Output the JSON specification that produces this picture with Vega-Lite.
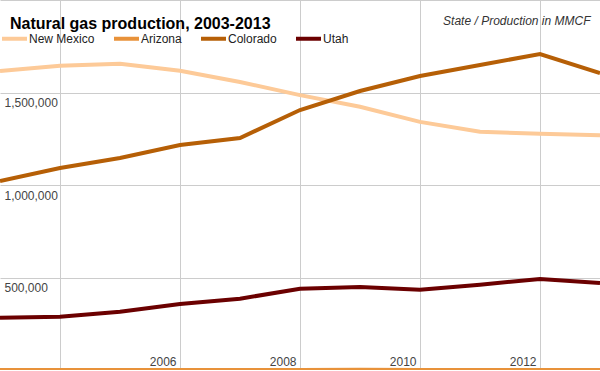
{
  "$schema": "https://vega.github.io/schema/vega-lite/v6.json",
  "width": 600,
  "height": 370,
  "autosize": {"type": "none"},
  "padding": 0,
  "background": "white",
  "config": {"font": "Liberation Sans", "view": {"stroke": null}},
  "title": {
    "text": "Natural gas production, 2003-2013",
    "anchor": "start",
    "frame": "group",
    "orient": "top",
    "offset": -45,
    "dx": 10,
    "fontSize": 16,
    "fontWeight": "bold",
    "font": "Liberation Sans",
    "color": "#000000",
    "baseline": "alphabetic"
  },
  "data": {
    "values": [
      {"state": "New Mexico", "year": 2003, "value": 1616000},
      {"state": "New Mexico", "year": 2004, "value": 1645000},
      {"state": "New Mexico", "year": 2005, "value": 1656000},
      {"state": "New Mexico", "year": 2006, "value": 1618000},
      {"state": "New Mexico", "year": 2007, "value": 1557000},
      {"state": "New Mexico", "year": 2008, "value": 1486000},
      {"state": "New Mexico", "year": 2009, "value": 1423000},
      {"state": "New Mexico", "year": 2010, "value": 1341000},
      {"state": "New Mexico", "year": 2011, "value": 1288000},
      {"state": "New Mexico", "year": 2012, "value": 1277000},
      {"state": "New Mexico", "year": 2013, "value": 1269000},
      {"state": "Arizona", "year": 2003, "value": 400},
      {"state": "Arizona", "year": 2004, "value": 300},
      {"state": "Arizona", "year": 2005, "value": 300},
      {"state": "Arizona", "year": 2006, "value": 500},
      {"state": "Arizona", "year": 2007, "value": 600},
      {"state": "Arizona", "year": 2008, "value": 500},
      {"state": "Arizona", "year": 2009, "value": 700},
      {"state": "Arizona", "year": 2010, "value": 150},
      {"state": "Arizona", "year": 2011, "value": 100},
      {"state": "Arizona", "year": 2012, "value": 100},
      {"state": "Arizona", "year": 2013, "value": 100},
      {"state": "Colorado", "year": 2003, "value": 1021600},
      {"state": "Colorado", "year": 2004, "value": 1091800},
      {"state": "Colorado", "year": 2005, "value": 1145900},
      {"state": "Colorado", "year": 2006, "value": 1216100},
      {"state": "Colorado", "year": 2007, "value": 1254000},
      {"state": "Colorado", "year": 2008, "value": 1405300},
      {"state": "Colorado", "year": 2009, "value": 1508000},
      {"state": "Colorado", "year": 2010, "value": 1589100},
      {"state": "Colorado", "year": 2011, "value": 1648500},
      {"state": "Colorado", "year": 2012, "value": 1708000},
      {"state": "Colorado", "year": 2013, "value": 1605300},
      {"state": "Utah", "year": 2003, "value": 282700},
      {"state": "Utah", "year": 2004, "value": 288100},
      {"state": "Utah", "year": 2005, "value": 315100},
      {"state": "Utah", "year": 2006, "value": 356700},
      {"state": "Utah", "year": 2007, "value": 385400},
      {"state": "Utah", "year": 2008, "value": 439400},
      {"state": "Utah", "year": 2009, "value": 448600},
      {"state": "Utah", "year": 2010, "value": 434000},
      {"state": "Utah", "year": 2011, "value": 461000},
      {"state": "Utah", "year": 2012, "value": 491900},
      {"state": "Utah", "year": 2013, "value": 470200}
    ]
  },
  "mark": {"type": "line", "strokeWidth": 4, "clip": false},
  "encoding": {
    "x": {
      "field": "year",
      "type": "quantitative",
      "scale": {"domain": [2003, 2013], "nice": false, "zero": false},
      "axis": {
        "title": null,
        "values": [2004, 2006, 2008, 2010, 2012],
        "format": "d",
        "labelExpr": "datum.value == 2004 ? '' : datum.label",
        "ticks": false,
        "domain": false,
        "grid": true,
        "gridColor": "#cccccc",
        "labelAlign": "right",
        "labelBaseline": "alphabetic",
        "labelPadding": -5,
        "labelOffset": -4,
        "labelFontSize": 12,
        "labelColor": "#444444",
        "labelFlush": false,
        "labelOverlap": false
      }
    },
    "y": {
      "field": "value",
      "type": "quantitative",
      "scale": {"domain": [0, 2000000], "nice": false},
      "axis": {
        "title": "State / Production in MMCF",
        "titleX": 590,
        "titleY": 24,
        "titleAngle": 0,
        "titleAlign": "right",
        "titleBaseline": "alphabetic",
        "titleFontStyle": "italic",
        "titleFontWeight": "normal",
        "titleFontSize": 12,
        "titleColor": "#333333",
        "values": [0, 500000, 1000000, 1500000, 2000000],
        "format": ",d",
        "labelExpr": "datum.value == 0 || datum.value == 2000000 ? '' : datum.label",
        "ticks": false,
        "domain": false,
        "grid": true,
        "gridColor": "#cccccc",
        "labelAlign": "left",
        "labelBaseline": "alphabetic",
        "labelPadding": -4,
        "labelOffset": 14,
        "labelFontSize": 12,
        "labelColor": "#444444",
        "labelOverlap": false,
        "labelFlush": false
      }
    },
    "color": {
      "field": "state",
      "type": "nominal",
      "scale": {
        "domain": ["New Mexico", "Arizona", "Colorado", "Utah"],
        "range": ["#fdca98", "#e8923a", "#b65f06", "#6b0000"]
      },
      "legend": {
        "title": null,
        "orient": "none",
        "legendX": 0,
        "legendY": 24,
        "direction": "horizontal",
        "symbolType": "stroke",
        "symbolStrokeWidth": 4,
        "symbolSize": 625,
        "labelFontSize": 12,
        "labelOffset": 0,
        "columnPadding": 11,
        "labelColor": "#222222",
        "padding": 0
      }
    }
  }
}
